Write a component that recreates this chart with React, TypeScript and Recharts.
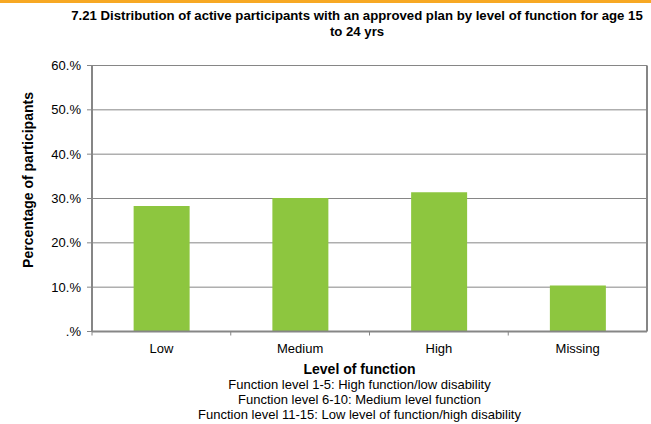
import React from 'react';
import { BarChart, Bar, XAxis, YAxis, CartesianGrid } from 'recharts';

const categories = ['Low', 'Medium', 'High', 'Missing'];
const shares = [28.3, 30.1, 31.4, 10.4];
const yTicks = [0, 10, 20, 30, 40, 50, 60];
const footnotes = [
  'Function level 1-5: High function/low disability',
  'Function level 6-10: Medium level function',
  'Function level 11-15: Low level of function/high disability',
];

const data = categories.map((name, i) => ({ name, value: shares[i] }));

const FONT = '"Liberation Sans", Arial, sans-serif';
const GREY = '#868686';

// Excel puts x ticks between categories, not under them
const CategoryTick = (props: any) => {
  const { x, y, payload } = props;
  const half = payload?.offset || 69.4;
  return (
    <g>
      <line x1={x - half} x2={x - half} y1={y - 8} y2={y - 4} stroke={GREY} />
      <text x={x} y={y + 13} textAnchor="middle" fontSize={13} fill="#000" fontFamily={FONT}>
        {payload.value}
      </text>
    </g>
  );
};

const App: React.FC = () => {
  return (
    <div style={{ position: 'relative', width: 651, height: 424, background: '#fff', fontFamily: FONT }}>
      <style>{'body{margin:0}'}</style>
      <div style={{ position: 'absolute', left: 0, top: 0, width: 651, height: 3, background: '#f7a823' }} />
      <div
        style={{
          position: 'absolute', left: 57, width: 600, top: 8, textAlign: 'center',
          fontSize: 13.2, fontWeight: 'bold', lineHeight: '16px', color: '#000',
        }}
      >
        7.21 Distribution of active participants with an approved plan by level of function for age 15<br />to 24 yrs
      </div>
      <div
        style={{
          position: 'absolute', left: 28, top: 180, transform: 'translate(-50%, -50%) rotate(-90deg)',
          whiteSpace: 'nowrap', fontSize: 14, fontWeight: 'bold', color: '#000',
        }}
      >
        Percentage of participants
      </div>

      <BarChart
        width={651}
        height={424}
        data={data}
        margin={{ top: 65.5, right: 0, bottom: 72.5, left: 0 }}
        barCategoryGap="30%"
      >
        <CartesianGrid horizontal vertical={false} stroke={GREY} strokeWidth={1} />
        <XAxis
          dataKey="name"
          height={20}
          axisLine={{ stroke: GREY, strokeWidth: 2 }}
          tickLine={false}
          tick={<CategoryTick />}
          interval={0}
        />
        <YAxis
          width={92}
          domain={[0, 60]}
          ticks={yTicks}
          tickFormatter={(v: number) => (v === 0 ? '.%' : `${v}.%`)}
          axisLine={{ stroke: GREY, strokeWidth: 2 }}
          tickLine={{ stroke: GREY }}
          tickSize={5}
          tickMargin={6}
          tick={{ fontSize: 13, fill: '#000', fontFamily: FONT }}
        />
        <YAxis
          yAxisId="frame"
          orientation="right"
          width={4}
          domain={[0, 60]}
          tick={false}
          tickLine={false}
          axisLine={{ stroke: GREY, strokeWidth: 2 }}
        />
        <Bar dataKey="value" fill="#8dc63f" isAnimationActive={false} />
      </BarChart>

      <div
        style={{
          position: 'absolute', left: 92, width: 535, top: 361, textAlign: 'center',
          fontSize: 13, lineHeight: '15px', color: '#000',
        }}
      >
        <div style={{ fontWeight: 'bold', fontSize: 14, lineHeight: '16px' }}>Level of function</div>
        {footnotes.map(f => (
          <div key={f}>{f}</div>
        ))}
      </div>
    </div>
  );
};

export default App;
